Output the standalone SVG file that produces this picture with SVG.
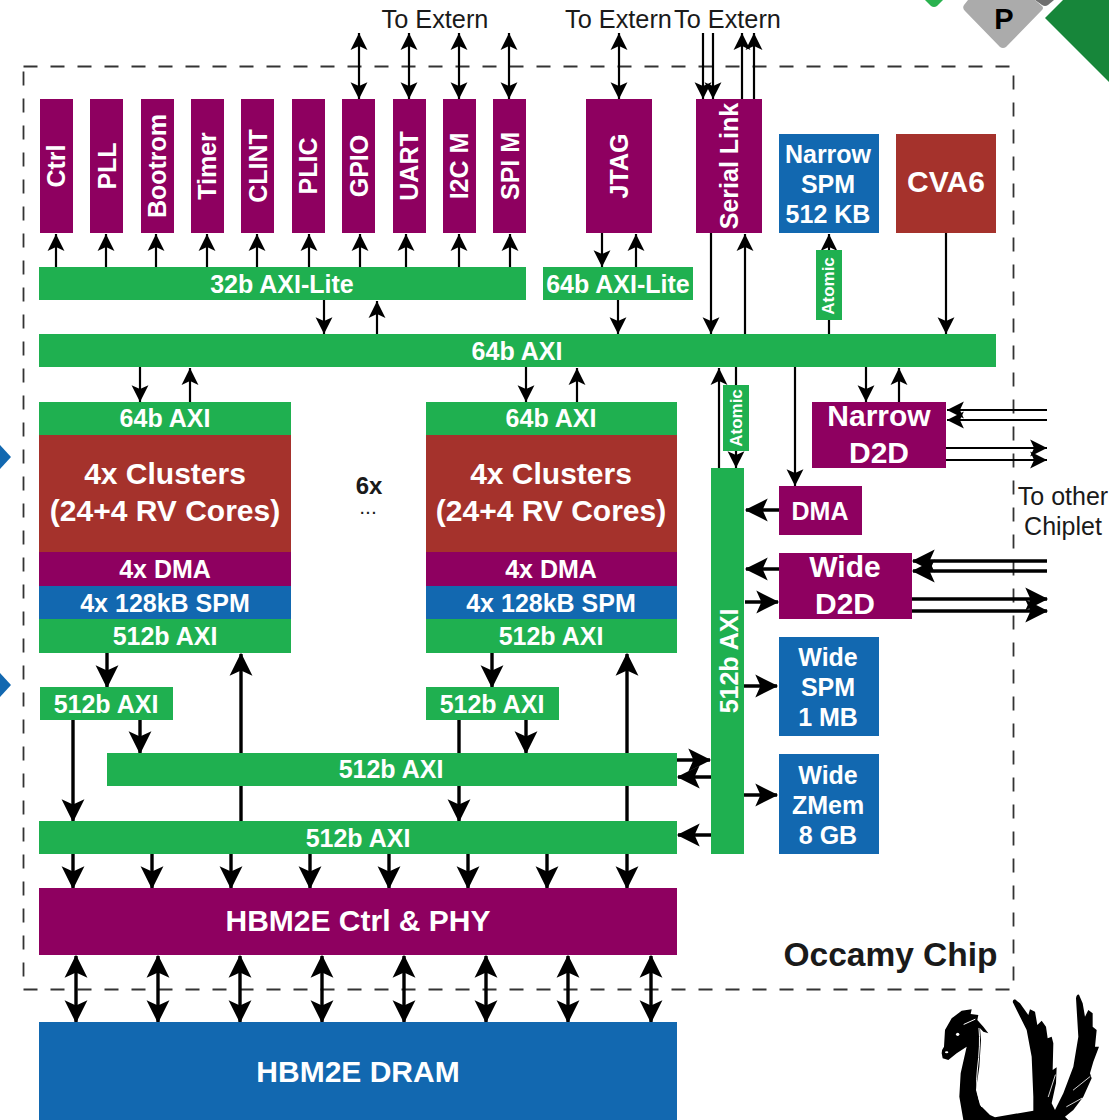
<svg xmlns="http://www.w3.org/2000/svg" width="1109" height="1120" viewBox="0 0 1109 1120">
<style>
text{font-family:"Liberation Sans",Arial,sans-serif;font-weight:700;fill:#fff;text-anchor:middle}
.g{fill:#1fb050}.p{fill:#8e0060}.r{fill:#a5322c}.b{fill:#1268b0}
.s{font-size:25px}.m{font-size:25px}.l{font-size:30px}.h{font-size:30px}
.k{font-weight:400;fill:#1a1a1a;font-size:25.300px}
.c line{stroke:#000;stroke-width:2.200;fill:none}
.t1{marker-end:url(#a)}.t2{marker-start:url(#a);marker-end:url(#a)}
.c line.T{stroke-width:3.400}.c line.T1{stroke-width:3.400;marker-end:url(#A)}.c line.T2{stroke-width:3.400;marker-start:url(#A);marker-end:url(#A)}
</style>
<defs>
<marker id="a" markerUnits="userSpaceOnUse" markerWidth="18" markerHeight="18" refX="15" refY="8" orient="auto-start-reverse" viewBox="0 0 16 16" overflow="visible"><path d="M15 8 L0 0.500 L3.500 8 L0 15.500Z" fill="#000"/></marker>
<marker id="A" markerUnits="userSpaceOnUse" markerWidth="24" markerHeight="24" refX="19" refY="10.500" orient="auto-start-reverse" viewBox="0 0 21 21" overflow="visible"><path d="M20 10.500 L0 0.500 L4.500 10.500 L0 20.500Z" fill="#000"/></marker>
</defs>
<rect width="1109" height="1120" fill="#fff"/>
<g id="decor">
<path d="M925 0H943L937 6Q934 8 931 6Z" fill="#2ab24f"/>
<path d="M1035 0H1054L1048 5Q1045 7 1042 5Z" fill="#6f6f6f"/>
<path d="M968 0H1035L1042 6Q1044 8 1042 10L1006 47Q1003 49 1000 47L965 11Q962 8 964 5Z" fill="#ababab"/>
<path d="M1063 0H1109V82L1045 18Z" fill="#17863a"/>
<path d="M0 445L11 457L0 469Z" fill="#1268b0"/>
<path d="M0 673L11 685L0 697Z" fill="#1268b0"/>
<g id="swan" transform="translate(900 990) scale(.33333)">
<path d="M125 190Q125 178 132 170L135 120L155 85L185 62L215 58L212 72L235 75L232 90L250 110L265 130L250 125L240 115L243 150L238 230L228 300L240 345L270 375L285 382L400 362L400 320L395 200L380 120L340 40Q335 30 345 28L360 40L385 75L390 58L405 65L412 105L425 92L438 110L443 145L455 140L460 160L458 240L470 232L468 280L455 340L465 360L490 310L520 230L535 140L528 25Q530 12 537 14L548 40L555 80L565 60L578 70L578 110L590 120L585 170L597 170L580 215L570 250L575 265L550 320L520 360L495 380L505 390H190L178 320L182 250L200 170L170 190L145 210L128 205Z" fill="#000"/>
<g fill="none" stroke="#fff" stroke-linecap="round">
<circle cx="173" cy="133" r="5" fill="#fff" stroke="none"/>
<ellipse cx="140" cy="187" rx="5" ry="3" fill="#fff" stroke="none"/>
<path d="M192 103L225 88" stroke-width="3"/>
<path d="M237 115Q242 160 232 240Q224 300 245 350" stroke-width="3"/>
<path d="M445 320L466 255M570 260L520 300M545 325L500 350" stroke-width="2.500"/>
</g>
</g>
<text x="1004" y="29" style="font-size:29px;fill:#000">P</text>
</g>
<rect id="chip-boundary" x="23.500" y="66.500" width="990" height="923" fill="none" stroke="#333" stroke-width="1.800" stroke-dasharray="14 13"/>
<g class="c" id="connectors">
<line class="t2" x1="359" y1="33" x2="359" y2="99"/><line class="t2" x1="409" y1="33" x2="409" y2="99"/><line class="t2" x1="459" y1="33" x2="459" y2="99"/><line class="t2" x1="509" y1="33" x2="509" y2="99"/><line class="t2" x1="619" y1="33" x2="619" y2="99"/>
<line class="t1" x1="703" y1="33" x2="703" y2="99"/><line class="t1" x1="713" y1="33" x2="713" y2="99"/><line class="t1" x1="742" y1="99" x2="742" y2="33"/><line class="t1" x1="754" y1="99" x2="754" y2="33"/>
<line class="t1" x1="56" y1="267" x2="56" y2="234"/><line class="t1" x1="106" y1="267" x2="106" y2="234"/><line class="t1" x1="156" y1="267" x2="156" y2="234"/><line class="t1" x1="207" y1="267" x2="207" y2="234"/><line class="t1" x1="257" y1="267" x2="257" y2="234"/><line class="t1" x1="309" y1="267" x2="309" y2="234"/><line class="t1" x1="360" y1="267" x2="360" y2="234"/><line class="t1" x1="406" y1="267" x2="406" y2="234"/><line class="t1" x1="459" y1="267" x2="459" y2="234"/><line class="t1" x1="510" y1="267" x2="510" y2="234"/>
<line class="t1" x1="602" y1="233" x2="602" y2="267"/><line class="t1" x1="636" y1="267" x2="636" y2="234"/>
<line class="t1" x1="324" y1="300" x2="324" y2="334"/><line class="t1" x1="377" y1="334" x2="377" y2="301"/><line class="t1" x1="618" y1="300" x2="618" y2="334"/>
<line class="t1" x1="711" y1="233" x2="711" y2="334"/><line class="t1" x1="745" y1="334" x2="745" y2="234"/>
<line class="t1" x1="829" y1="250" x2="829" y2="234"/><line x1="829" y1="320" x2="829" y2="334"/><line class="t1" x1="946" y1="233" x2="946" y2="334"/>
<line class="t1" x1="140" y1="367" x2="140" y2="402"/><line class="t1" x1="190" y1="402" x2="190" y2="368"/><line class="t1" x1="526" y1="367" x2="526" y2="402"/><line class="t1" x1="577" y1="402" x2="577" y2="368"/>
<line class="t1" x1="719" y1="468" x2="719" y2="368"/><line x1="736" y1="367" x2="736" y2="385"/><line class="t1" x1="736" y1="451" x2="736" y2="468"/>
<line class="t1" x1="795" y1="367" x2="795" y2="486"/><line class="t1" x1="866" y1="367" x2="866" y2="402"/><line class="t1" x1="899" y1="402" x2="899" y2="368"/>
<line class="t1" x1="1047" y1="410" x2="947" y2="410"/><line class="t1" x1="1047" y1="420" x2="947" y2="420"/><line class="t1" x1="946" y1="448" x2="1047" y2="448"/><line class="t1" x1="946" y1="460" x2="1047" y2="460"/>
<line class="T1" x1="779" y1="510" x2="746" y2="510"/><line class="T1" x1="779" y1="569" x2="746" y2="569"/><line class="T1" x1="745" y1="602" x2="778" y2="602"/>
<line class="T1" x1="1047" y1="561" x2="913" y2="561"/><line class="T1" x1="1047" y1="571" x2="913" y2="571"/><line class="T1" x1="912" y1="599" x2="1047" y2="599"/><line class="T1" x1="912" y1="611" x2="1047" y2="611"/>
<line class="T1" x1="744" y1="686" x2="777" y2="686"/><line class="T1" x1="744" y1="795" x2="777" y2="795"/>
<line class="T1" x1="107" y1="653" x2="107" y2="687"/><line class="T1" x1="492" y1="653" x2="492" y2="687"/>
<line class="T1" x1="241" y1="821" x2="241" y2="654"/><line class="T1" x1="627" y1="753" x2="627" y2="654"/><line class="T" x1="627" y1="786" x2="627" y2="821"/>
<line class="T1" x1="73" y1="720" x2="73" y2="821"/><line class="T1" x1="140" y1="720" x2="140" y2="753"/><line class="T" x1="459" y1="720" x2="459" y2="753"/><line class="T1" x1="459" y1="786" x2="459" y2="821"/><line class="T1" x1="526" y1="720" x2="526" y2="753"/>
<line class="T1" x1="677" y1="760" x2="710" y2="760"/><line class="T1" x1="711" y1="777" x2="678" y2="777"/><line class="T1" x1="711" y1="835" x2="678" y2="835"/>
<line class="T1" x1="73" y1="854" x2="73" y2="888"/><line class="T1" x1="152" y1="854" x2="152" y2="888"/><line class="T1" x1="231" y1="854" x2="231" y2="888"/><line class="T1" x1="310" y1="854" x2="310" y2="888"/><line class="T1" x1="389" y1="854" x2="389" y2="888"/><line class="T1" x1="468" y1="854" x2="468" y2="888"/><line class="T1" x1="547" y1="854" x2="547" y2="888"/><line class="T1" x1="627" y1="854" x2="627" y2="888"/>
<line class="T2" x1="76" y1="956" x2="76" y2="1022"/><line class="T2" x1="158" y1="956" x2="158" y2="1022"/><line class="T2" x1="240" y1="956" x2="240" y2="1022"/><line class="T2" x1="322" y1="956" x2="322" y2="1022"/><line class="T2" x1="404" y1="956" x2="404" y2="1022"/><line class="T2" x1="486" y1="956" x2="486" y2="1022"/><line class="T2" x1="568" y1="956" x2="568" y2="1022"/><line class="T2" x1="651" y1="956" x2="651" y2="1022"/>
</g>
<g id="ctrl"><rect class="p" x="40" y="99" width="33" height="134"/><text class="s" transform="translate(65,166) rotate(-90)">Ctrl</text></g>
<g id="pll"><rect class="p" x="90" y="99" width="33" height="134"/><text class="s" transform="translate(116,166) rotate(-90)">PLL</text></g>
<g id="bootrom"><rect class="p" x="141" y="99" width="33" height="134"/><text class="s" transform="translate(166,166) rotate(-90)">Bootrom</text></g>
<g id="timer"><rect class="p" x="191" y="99" width="33" height="134"/><text class="s" transform="translate(216,166) rotate(-90)">Timer</text></g>
<g id="clint"><rect class="p" x="241" y="99" width="33" height="134"/><text class="s" transform="translate(267,166) rotate(-90)">CLINT</text></g>
<g id="plic"><rect class="p" x="292" y="99" width="33" height="134"/><text class="s" transform="translate(317,166) rotate(-90)">PLIC</text></g>
<g id="gpio"><rect class="p" x="342" y="99" width="33" height="134"/><text class="s" transform="translate(368,166) rotate(-90)">GPIO</text></g>
<g id="uart"><rect class="p" x="393" y="99" width="33" height="134"/><text class="s" transform="translate(418,166) rotate(-90)">UART</text></g>
<g id="i2c"><rect class="p" x="443" y="99" width="33" height="134"/><text class="s" transform="translate(468,166) rotate(-90)">I2C M</text></g>
<g id="spi"><rect class="p" x="493" y="99" width="33" height="134"/><text class="s" transform="translate(519,166) rotate(-90)">SPI M</text></g>
<g id="jtag"><rect class="p" x="586" y="99" width="66" height="134"/><text class="s" transform="translate(628,166) rotate(-90)">JTAG</text></g>
<g id="serial"><rect class="p" x="696" y="99" width="66" height="134"/><text class="s" transform="translate(738,166) rotate(-90)">Serial Link</text></g>
<g id="narrow-spm"><rect class="b" x="779" y="134" width="100" height="99"/><text class="s" x="828" y="163">Narrow</text><text class="s" x="828" y="193">SPM</text><text class="s" x="828" y="223">512 KB</text></g>
<g id="cva6"><rect class="r" x="896" y="134" width="100" height="99"/><text class="l" x="946" y="192">CVA6</text></g>
<g id="atomic-top"><rect class="g" x="816" y="250" width="26" height="70"/><text style="font-size:17px" transform="translate(834,286) rotate(-90)">Atomic</text></g>
<g id="axi-lite-32"><rect class="g" x="39" y="267" width="487" height="33"/><text class="s" x="282" y="293">32b AXI-Lite</text></g>
<g id="axi-lite-64"><rect class="g" x="543" y="267" width="150" height="33"/><text class="s" x="618" y="293">64b AXI-Lite</text></g>
<g id="axi-64-main"><rect class="g" x="39" y="334" width="957" height="33"/><text class="s" x="517" y="360">64b AXI</text></g>
<g id="cluster-a"><rect class="g" x="39" y="402" width="252" height="33"/><text class="s" x="165" y="427">64b AXI</text><rect class="r" x="39" y="435" width="252" height="117"/><text class="l" x="165" y="484">4x Clusters</text><text class="l" x="165" y="521">(24+4 RV Cores)</text><rect class="p" x="39" y="552" width="252" height="34"/><text class="s" x="165" y="578">4x DMA</text><rect class="b" x="39" y="586" width="252" height="33"/><text class="s" x="165" y="612">4x 128kB SPM</text><rect class="g" x="39" y="619" width="252" height="34"/><text class="s" x="165" y="645">512b AXI</text></g>
<g id="cluster-b"><rect class="g" x="426" y="402" width="251" height="33"/><text class="s" x="551" y="427">64b AXI</text><rect class="r" x="426" y="435" width="251" height="117"/><text class="l" x="551" y="484">4x Clusters</text><text class="l" x="551" y="521">(24+4 RV Cores)</text><rect class="p" x="426" y="552" width="251" height="34"/><text class="s" x="551" y="578">4x DMA</text><rect class="b" x="426" y="586" width="251" height="33"/><text class="s" x="551" y="612">4x 128kB SPM</text><rect class="g" x="426" y="619" width="251" height="34"/><text class="s" x="551" y="645">512b AXI</text></g>
<g id="repeat"><text x="369" y="494" style="font-size:24px;fill:#1a1a1a">6x</text><text x="369" y="514" style="font-size:14px;letter-spacing:2px;fill:#1a1a1a">...</text></g>
<g id="axi-a"><rect class="g" x="40" y="687" width="133" height="33"/><text class="s" x="106" y="713">512b AXI</text></g>
<g id="axi-b"><rect class="g" x="426" y="687" width="133" height="33"/><text class="s" x="492" y="713">512b AXI</text></g>
<g id="axi-c"><rect class="g" x="107" y="753" width="570" height="33"/><text class="s" x="391" y="778">512b AXI</text></g>
<g id="axi-d"><rect class="g" x="39" y="821" width="638" height="33"/><text class="s" x="358" y="847">512b AXI</text></g>
<g id="axi-v"><rect class="g" x="711" y="468" width="33" height="386"/><text class="s" transform="translate(738,661) rotate(-90)">512b AXI</text></g>
<g id="atomic-low"><rect class="g" x="723" y="385" width="26" height="66"/><text style="font-size:17px" transform="translate(742,418) rotate(-90)">Atomic</text></g>
<g id="narrow-d2d"><rect class="p" x="812" y="402" width="134" height="66"/><text class="l" x="879" y="426">Narrow</text><text class="l" x="879" y="463">D2D</text></g>
<g id="dma"><rect class="p" x="779" y="486" width="83" height="49"/><text class="m" x="820" y="520">DMA</text></g>
<g id="wide-d2d"><rect class="p" x="779" y="553" width="133" height="66"/><text class="l" x="845" y="577">Wide</text><text class="l" x="845" y="614">D2D</text></g>
<g id="wide-spm"><rect class="b" x="779" y="637" width="100" height="99"/><text class="s" x="828" y="666">Wide</text><text class="s" x="828" y="696">SPM</text><text class="s" x="828" y="726">1 MB</text></g>
<g id="wide-zmem"><rect class="b" x="779" y="754" width="100" height="100"/><text class="s" x="828" y="784">Wide</text><text class="s" x="828" y="814">ZMem</text><text class="s" x="828" y="844">8 GB</text></g>
<g id="hbm-ctrl"><rect class="p" x="39" y="888" width="638" height="67"/><text class="h" x="358" y="931">HBM2E Ctrl &amp; PHY</text></g>
<g id="hbm-dram"><rect class="b" x="39" y="1022" width="638" height="98"/><text class="h" x="358" y="1082">HBM2E DRAM</text></g>
<g id="labels"><text class="k" x="435" y="28">To Extern</text><text class="k" x="618.500" y="28">To Extern</text><text class="k" x="727.500" y="28">To Extern</text><text class="k" x="1063" y="505" style="font-size:25px">To other</text><text class="k" x="1063" y="535" style="font-size:25px">Chiplet</text><text x="890.500" y="966" style="font-size:33.500px;fill:#1a1a1a">Occamy Chip</text></g>
</svg>
